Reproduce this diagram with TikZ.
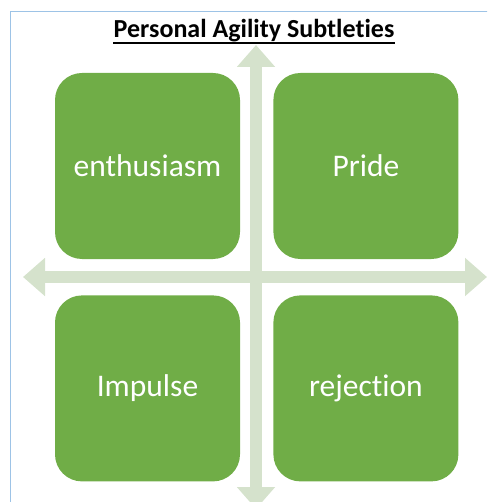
\documentclass[tikz,border=0pt]{standalone}
\usepackage{fontspec}
\setmainfont{Carlito}[Ligatures=NoCommon]
\usetikzlibrary{arrows.meta,positioning}
\definecolor{boxgreen}{HTML}{70AD47}
\definecolor{axisgreen}{HTML}{D5E2CC}
\definecolor{frameblue}{HTML}{9DC3E6}

\begin{document}
\begin{tikzpicture}[x=1pt,y=-1pt,node distance=33pt,
  quad node/.style={rectangle,rounded corners=27pt,fill=boxgreen,text=white,
    minimum width=185pt,minimum height=186pt,font=\fontsize{31.5}{36}\selectfont},
  axis/.style={draw=axisgreen,line width=12pt,
    {Triangle[length=22pt,width=37pt]}-{Triangle[length=22pt,width=37pt]}}]

    \useasboundingbox (0,0) rectangle (487,502);
    \clip (0,0) rectangle (487,502);
    \draw[frameblue,line width=1pt] (10,520) -- (10,12) -- (500,12);

    \node[font=\fontsize{26}{30}\selectfont\bfseries] (title) at (254,31)
{Personal Agility Subtleties};
    \draw[line width=1.3pt] (113,43) -- (395,43);

    % the two axes
    \coordinate (top) at (256,45); \coordinate (bottom) at (256,509);
    \coordinate (left) at (23,277); \coordinate (right) at (487,277);
    \path[axis] (left) -- (right);
    \path[axis] (bottom) -- (top);

    \node[quad node] (E) at (147.5,166) {enthusiasm};
    \node[quad node] (P) [right=33pt of E] {Pride};
    \node[quad node] (I) [below=36pt of E] {Impulse};
    \node[quad node] (R) [right=33pt of I] {rejection};
  \end{tikzpicture}
\end{document}
